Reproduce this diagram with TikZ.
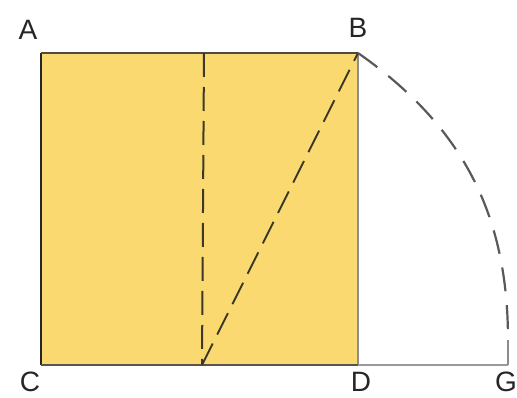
\documentclass[tikz,border=0pt]{standalone}
\usepackage{fontspec}
\setmainfont{Liberation Sans}
\definecolor{sq}{RGB}{250,218,112}
\definecolor{edge}{RGB}{60,55,40}
\begin{document}
\begin{tikzpicture}[x=1pt,y=-1pt,
  lbl/.style={font=\fontsize{28}{28}\selectfont, text=black!85, inner sep=0pt},
  dashline/.style={draw=edge, line width=2pt, dash pattern=on 24pt off 10pt},
  edgeline/.style={line width=2pt}]
\useasboundingbox (0,0) rectangle (517,398);
\coordinate (A) at (41,53);
\coordinate (B) at (358,53);
\coordinate (C) at (41,365);
\coordinate (D) at (358,365);
\coordinate (M) at (202,365);
\coordinate (T) at (204,53);
\coordinate (G) at (508,365);
\coordinate (E) at (508,340);
\fill[sq] (A) rectangle (D);
\draw[edgeline, draw=black!85] (C) -- (A);
\draw[edgeline, draw=edge!90] (A) -- (B);
\draw[edgeline, draw=black!45] (B) -- (D);
\draw[edgeline, draw=edge!85] (C) -- (D);
\draw[line width=1.8pt, draw=black!40] (D) -- (G);
\draw[line width=1.8pt, draw=black!45] (G) -- (E);
\draw[dashline] (T) -- (M);
\draw[dashline] (M) -- (B);
\draw[line width=2.2pt, draw=black!65, dash pattern=on 24pt off 14pt] (B) to[out=-35,in=90] (E);
\node[lbl] (la) at (28,30) {A};
\node[lbl] (lb) at (358,28) {B};
\node[lbl] (lc) at (30,382) {C};
\node[lbl] (ld) at (361,382) {D};
\node[lbl] (lg) at (506,382) {G};
\end{tikzpicture}
\end{document}
